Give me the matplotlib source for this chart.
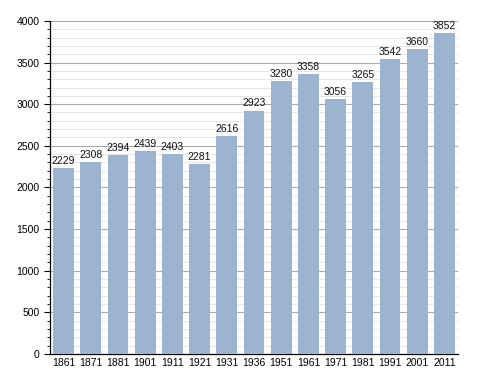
import matplotlib
matplotlib.use("Agg")
import matplotlib.pyplot as plt
from matplotlib.ticker import MultipleLocator

years = ["1861", "1871", "1881", "1901", "1911", "1921", "1931", "1936", "1951",
         "1961", "1971", "1981", "1991", "2001", "2011"]
population = [2229, 2308, 2394, 2439, 2403, 2281, 2616, 2923, 3280,
              3358, 3056, 3265, 3542, 3660, 3852]

plt.rcParams['font.family'] = ['Liberation Sans', 'DejaVu Sans']
fig = plt.figure(figsize=(4.88, 3.73), dpi=100)
ax = fig.add_axes([0.1025, 0.051, 0.836, 0.893])

x = list(range(len(years)))
ax.bar(x, population, width=0.76, color="#9db4d0", zorder=3)
for xi, v in zip(x, population):
    ax.text(xi, v + 25, str(v), ha="center", va="bottom", fontsize=7.5, color="#111111", zorder=4)

ax.set_xlim(-0.5, len(years) - 0.5)
ax.set_ylim(0, 4000)
ax.set_xticks(x)
ax.set_xticklabels(years, fontsize=7.5)
ax.yaxis.set_major_locator(MultipleLocator(500))
ax.yaxis.set_minor_locator(MultipleLocator(100))
ax.tick_params(axis="y", labelsize=7.5, length=4, width=0.8, direction="out")
ax.tick_params(axis="y", which="minor", length=2.5, width=0.6)
ax.tick_params(axis="x", length=0, pad=3)
ax.grid(axis="y", which="major", color="#aaaaaa", linewidth=0.8, zorder=0)
ax.grid(axis="y", which="minor", color="#e6e6e6", linewidth=0.7, zorder=0)
for s in ["top", "right"]:
    ax.spines[s].set_visible(False)
ax.spines["left"].set_linewidth(0.9)
ax.spines["bottom"].set_linewidth(0.9)

fig.savefig("out.png", dpi=100)
